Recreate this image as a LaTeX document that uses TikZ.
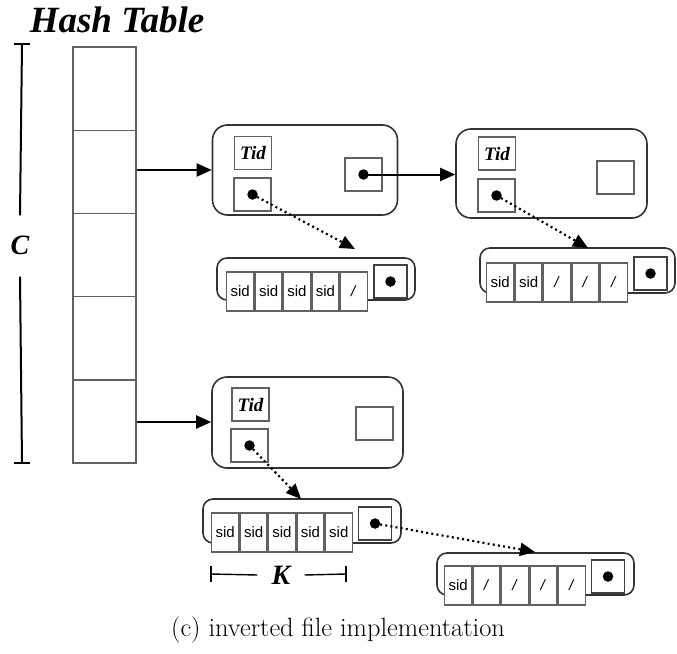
\documentclass[tikz,border=0pt]{standalone}
\usepackage{fontspec}
\newfontfamily\timesfont{Liberation Serif}
\newfontfamily\arialfont{Liberation Sans}
\usetikzlibrary{arrows.meta,calc}

\definecolor{edge}{gray}{0.38}

\tikzset{
  box/.style={draw=edge, line width=1.4pt, fill=white, inner sep=0pt,
              minimum width=37pt, minimum height=33pt},
  ptrbox/.style={box, draw=black!75, minimum width=33pt, minimum height=33pt},
  hcell/.style={draw=edge, line width=1.4pt, inner sep=0pt,
                minimum width=63pt, minimum height=83.2pt},
  record/.style={draw=black!80, line width=1.6pt, rounded corners=15pt, inner sep=0pt},
  listbox/.style={draw=black!80, line width=1.6pt, rounded corners=10pt, inner sep=0pt},
  cell/.style={draw=edge, line width=1.4pt, fill=white, inner sep=0pt,
               minimum width=27pt, minimum height=39pt, anchor=west,
               font=\arialfont\fontsize{15}{17}\selectfont},
  dotmark/.style={circle, fill=black, inner sep=0pt, minimum size=10.5pt},
  tidlabel/.style={box, font=\timesfont\bfseries\itshape\fontsize{19}{21}\selectfont},
  link/.style={-{Triangle[length=15pt,width=13pt]}, line width=2pt},
  plink/.style={-{Triangle[length=15pt,width=13pt]}, line width=2.2pt,
                dash pattern=on 2pt off 3.2pt},
  dimline/.style={line width=2pt},
  biglabel/.style={font=\timesfont\bfseries\itshape\fontsize{28}{30}\selectfont, inner sep=0pt}
}

\begin{document}
\begin{tikzpicture}[x=1pt,y=-1pt]
\useasboundingbox (0,0) rectangle (677,653);

% title
\node[font=\timesfont\bfseries\itshape\fontsize{37}{40}\selectfont, inner sep=0pt]
  (title) at (117,20) {Hash Table};

% hash table column
\foreach \i/\yy in {1/88.6,2/171.8,3/255.0,4/338.2,5/421.4}
  \node[hcell] (h\i) at (104.5,\yy) {};

% C dimension
\node[biglabel] (clabel) at (20,245) {C};
\coordinate (ctop) at (22,44);
\coordinate (cbot) at (22,463);
\draw[dimline] (ctop) -- ($(clabel.north)+(0,-20)$);
\draw[dimline] ($(clabel.south)+(0,22)$) -- (cbot);
\draw[dimline] ($(ctop)+(-8,0)$) -- ($(ctop)+(8,0)$);
\draw[dimline] ($(cbot)+(-8,0)$) -- ($(cbot)+(8,0)$);

% ---------- record 1 ----------
\node[record, minimum width=185pt, minimum height=90pt] (r1) at (305,170) {};
\node[tidlabel] (r1tid) at (253,153) {Tid};
\node[box] (r1ptr) at (252.5,194.5) {};
\node[dotmark] (r1dot) at (r1ptr) {};
\node[box] (r1nxt) at (363.5,174.5) {};
\node[dotmark] (r1ndot) at (r1nxt) {};

% ---------- record 2 ----------
\node[record, minimum width=191pt, minimum height=89pt] (r2) at (551.5,173.5) {};
\node[tidlabel] (r2tid) at (497,153.5) {Tid};
\node[box] (r2ptr) at (496.5,195.5) {};
\node[dotmark] (r2dot) at (r2ptr) {};
\node[box] (r2nxt) at (615.5,177.5) {};

% ---------- record 3 ----------
\node[record, minimum width=191pt, minimum height=91pt] (r3) at (307.5,422.5) {};
\node[tidlabel] (r3tid) at (250.5,404.5) {Tid};
\node[box] (r3ptr) at (249.5,445.5) {};
\node[dotmark] (r3dot) at (r3ptr) {};
\node[box] (r3nxt) at (374.5,423.5) {};

% ---------- posting list 1 ----------
\node[listbox, minimum width=198pt, minimum height=42pt] (l1) at (316,279) {};
\node[cell] (l1c1) at (226,291.5) {sid};
\node[cell] (l1c2) at (l1c1.east) {sid};
\node[cell] (l1c3) at (l1c2.east) {sid};
\node[cell] (l1c4) at (l1c3.east) {sid};
\node[cell] (l1c5) at (l1c4.east) {\textit{/}};
\node[ptrbox] (l1ptr) at (390.5,281.5) {};
\node[dotmark] (l1dot) at (l1ptr) {};

% ---------- posting list 2 ----------
\node[listbox, minimum width=195pt, minimum height=45pt] (l2) at (577.5,270.5) {};
\node[cell] (l2c1) at (486,282.5) {sid};
\node[cell] (l2c2) at (l2c1.east) {sid};
\node[cell] (l2c3) at (l2c2.east) {\textit{/}};
\node[cell] (l2c4) at (l2c3.east) {\textit{/}};
\node[cell] (l2c5) at (l2c4.east) {\textit{/}};
\node[ptrbox] (l2ptr) at (650.5,273.5) {};
\node[dotmark] (l2dot) at (l2ptr) {};

% ---------- posting list 3 ----------
\node[listbox, minimum width=198pt, minimum height=44pt] (l3) at (302,521) {};
\node[cell] (l3c1) at (211,532.5) {sid};
\node[cell] (l3c2) at (l3c1.east) {sid};
\node[cell] (l3c3) at (l3c2.east) {sid};
\node[cell] (l3c4) at (l3c3.east) {sid};
\node[cell] (l3c5) at (l3c4.east) {sid};
\node[ptrbox] (l3ptr) at (375,523.5) {};
\node[dotmark] (l3dot) at (l3ptr) {};

% ---------- posting list 4 ----------
\node[listbox, minimum width=197pt, minimum height=42pt] (l4) at (535.5,574) {};
\node[cell] (l4c1) at (444,585.5) {sid};
\node[cell] (l4c2) at (l4c1.east) {\textit{/}};
\node[cell] (l4c3) at (l4c2.east) {\textit{/}};
\node[cell] (l4c4) at (l4c3.east) {\textit{/}};
\node[cell] (l4c5) at (l4c4.east) {\textit{/}};
\node[ptrbox] (l4ptr) at (608,576.5) {};
\node[dotmark] (l4dot) at (l4ptr) {};

% K dimension under list 3
\node[biglabel] (klabel) at (281,575) {K};
\coordinate (kleft) at (211,574);
\coordinate (kright) at (346,574);
\draw[line width=1.4pt] (kleft) -- ($(klabel.west)+(-14,0)$);
\draw[line width=1.4pt] ($(klabel.east)+(14,0)$) -- (kright);
\draw[line width=1.4pt] ($(kleft)+(0,-8)$) -- ($(kleft)+(0,8)$);
\draw[line width=1.4pt] ($(kright)+(0,-8)$) -- ($(kright)+(0,8)$);

% table entries to records
\draw[link] (h2.east |- 0,170) -- (r1.west |- 0,170);
\draw[link] (h5.east |- 0,422) -- (r3.west |- 0,422);
\draw[link] (r1ndot.center) -- (r2.west |- r1ndot.center);

% record pointers to posting lists
\coordinate (t1) at (355,249);
\coordinate (t2) at (588,248);
\coordinate (t3) at (301,499);
\coordinate (t4) at (535,552);
\draw[plink] (r1dot.center) -- (t1);
\draw[plink] (r2dot.center) -- (t2);
\draw[plink] (r3dot.center) -- (t3);
\draw[plink] (l3dot.center) -- (t4);

% caption
\node[font=\fontsize{26.4}{30}\selectfont, inner sep=0pt] (caption) at (338,630)
  {(c) inverted file implementation};
\end{tikzpicture}
\end{document}
